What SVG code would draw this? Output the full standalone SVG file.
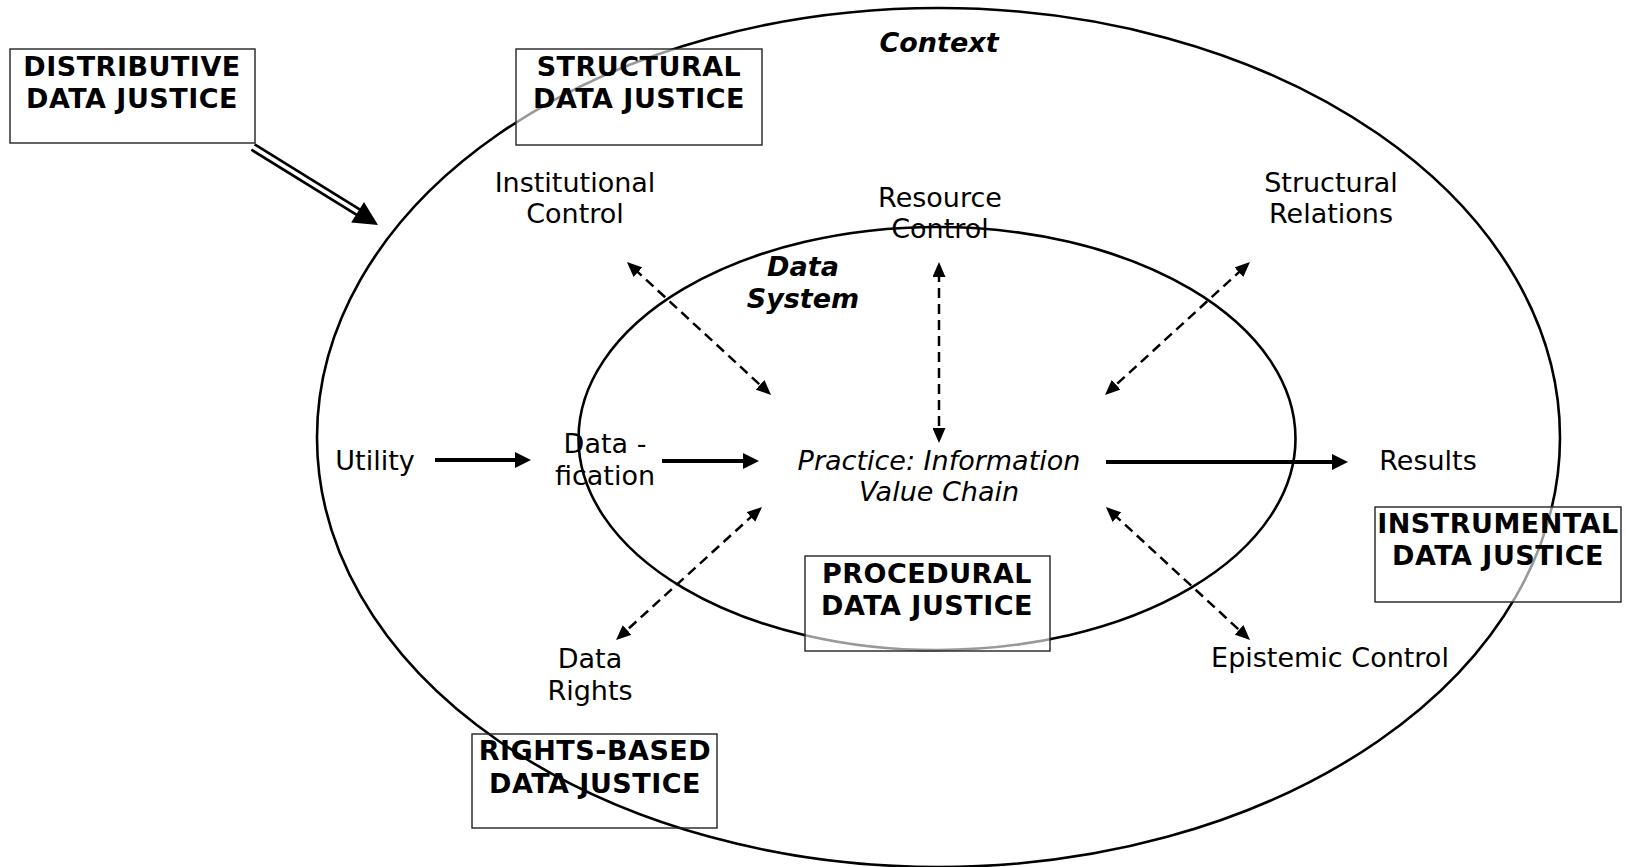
<svg xmlns="http://www.w3.org/2000/svg" width="1626" height="867" viewBox="0 0 1626 867">
<style>
.bg{fill:#fff}
.ell{fill:none;stroke:#000;stroke-width:2.6}
.box{fill:#fff;fill-opacity:0.6;stroke:#222;stroke-width:1.4}
.box-clear{fill:none;stroke:#222;stroke-width:1.4}
text{font-family:"DejaVu Sans",Verdana,sans-serif;font-size:27px;fill:#000;text-anchor:middle}
.b{font-weight:bold;letter-spacing:0.5px}
.i{font-style:italic}
.t{letter-spacing:0}
.solid{stroke:#000;stroke-width:4;fill:none;marker-end:url(#ah)}
.dash{stroke:#000;stroke-width:2.5;fill:none;stroke-dasharray:10 6;marker-start:url(#dh);marker-end:url(#dh)}
</style>
<defs>
<marker id="ah" markerUnits="userSpaceOnUse" viewBox="0 0 16 16" refX="6" refY="8" markerWidth="16" markerHeight="16" orient="auto">
<path d="M0,0 L16,8 L0,16 z" fill="#000"/>
</marker>
<marker id="dh" markerUnits="userSpaceOnUse" viewBox="0 0 15 13" refX="5" refY="6.5" markerWidth="15" markerHeight="13" orient="auto-start-reverse">
<path d="M0,0 L15,6.5 L0,13 z" fill="#000"/>
</marker>
</defs>
<rect class="bg" x="0" y="0" width="1626" height="867"/>

<g id="context">
<ellipse class="ell" cx="938.5" cy="437.5" rx="621.5" ry="429.5"/>
<text class="i t" x="939" y="52" font-weight="bold">Context</text>
</g>
<g id="data-system">
<ellipse class="ell" cx="937" cy="438.5" rx="358.5" ry="211.5"/>
<text class="i t" x="803" y="276" font-weight="bold">Data</text>
<text class="i t" x="803" y="308" font-weight="bold">System</text>
</g>

<g id="connectors">
<path class="solid" d="M435,460 L521,460"/>
<path class="solid" d="M662,461 L749,461"/>
<path class="solid" d="M1106,462 L1338,462"/>
<path class="dash" d="M634.3,268.8 L763.7,388.2"/>
<path class="dash" d="M939,272 L939,433"/>
<path class="dash" d="M1242.6,268.8 L1112.4,388.2"/>
<path class="dash" d="M754.6,513.7 L623.4,633.3"/>
<path class="dash" d="M1113.3,513.8 L1242.7,633.2"/>
<g id="distributive-arrow">
<path d="M253,147 L362,214.5" stroke="#000" stroke-width="9" fill="none"/>
<path d="M250,145.2 L360,213.3" stroke="#fff" stroke-width="3.5" fill="none"/>
<polygon points="378,225 351.2,222.5 364,202.1" fill="#000"/>
</g>
</g>

<g id="utility"><text x="375" y="470">Utility</text></g>
<g id="datafication"><text x="605" y="453">Data -</text><text x="605" y="485">fication</text></g>
<g id="practice"><text class="i" x="939" y="470">Practice: Information</text><text class="i" x="939" y="501">Value Chain</text></g>
<g id="results"><text x="1428" y="470">Results</text></g>
<g id="institutional-control"><text x="575" y="192">Institutional</text><text x="575" y="223">Control</text></g>
<g id="resource-control"><text x="940" y="207">Resource</text><text x="940" y="238">Control</text></g>
<g id="structural-relations"><text x="1331" y="192">Structural</text><text x="1331" y="223">Relations</text></g>
<g id="data-rights"><text x="590" y="668">Data</text><text x="590" y="700">Rights</text></g>
<g id="epistemic-control"><text x="1330" y="667">Epistemic Control</text></g>

<g id="distributive">
<rect class="box" x="10" y="49" width="245" height="94"/>
<text class="b" x="132" y="76">DISTRIBUTIVE</text>
<text class="b" x="132" y="108">DATA JUSTICE</text>
</g>
<g id="structural">
<rect class="box" x="516" y="49" width="246" height="96"/>
<text class="b" x="639" y="76">STRUCTURAL</text>
<text class="b" x="639" y="108">DATA JUSTICE</text>
</g>
<g id="procedural">
<rect class="box" x="805" y="556" width="245" height="95"/>
<text class="b" x="927" y="583">PROCEDURAL</text>
<text class="b" x="927" y="615">DATA JUSTICE</text>
</g>
<g id="instrumental">
<rect class="box" x="1375" y="507" width="246" height="95"/>
<text class="b" x="1498" y="533">INSTRUMENTAL</text>
<text class="b" x="1498" y="565">DATA JUSTICE</text>
</g>
<g id="rights-based">
<rect class="box-clear" x="472" y="734" width="245" height="94"/>
<text class="b" x="595" y="760">RIGHTS-BASED</text>
<text class="b" x="595" y="793">DATA JUSTICE</text>
</g>
</svg>
